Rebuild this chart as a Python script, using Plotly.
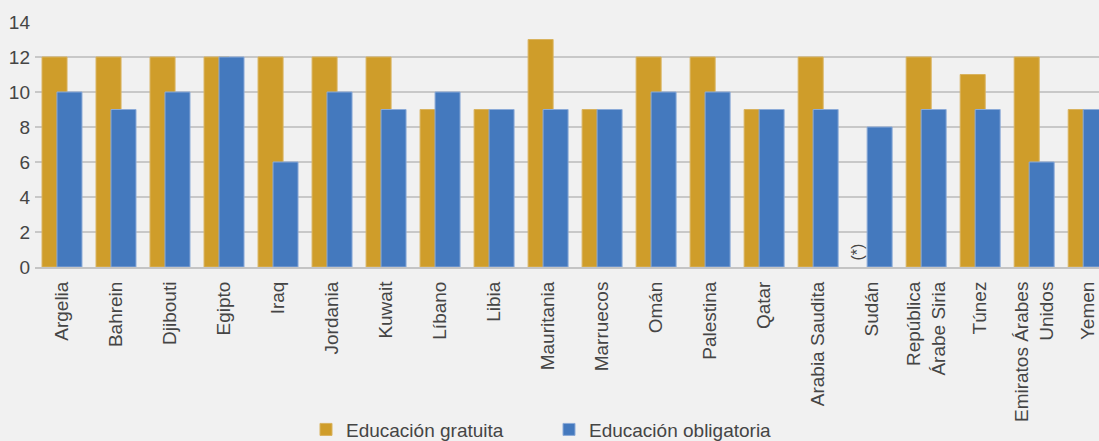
import plotly.graph_objects as go

paises = ["Argelia", "Bahrein", "Djibouti", "Egipto", "Iraq", "Jordania", "Kuwait",
          "Líbano", "Libia", "Mauritania", "Marruecos", "Omán", "Palestina", "Qatar",
          "Arabia Saudita", "Sudán", "República<br>Árabe Siria", "Túnez",
          "Emiratos Árabes<br>Unidos", "Yemen"]
gratuita = [12, 12, 12, 12, 12, 12, 12, 9, 9, 13, 9, 12, 12, 9, 12, None, 12, 11, 12, 9]
obligatoria = [10, 9, 10, 12, 6, 10, 9, 10, 9, 9, 9, 10, 10, 9, 9, 8, 9, 9, 6, 9]

FONT = "Liberation Sans, Arial, sans-serif"
GOLD = "#CF9D2A"
BLUE = "#4479BE"
BG = "#F1F1F1"
TXT = "#454545"

fig = go.Figure()
fig.add_trace(go.Bar(
    x=paises, y=gratuita, name="Educación gratuita",
    marker=dict(color=GOLD, line=dict(color="#D9B35E", width=1)),
    offset=-0.37, width=0.463,
))
fig.add_trace(go.Bar(
    x=paises, y=obligatoria, name="Educación obligatoria",
    marker=dict(color=BLUE, line=dict(color="#8CABD8", width=1)),
    offset=-0.093, width=0.463,
))

# nota de Sudán
fig.add_annotation(x=14.72, y=0, text="(*)", textangle=-90, showarrow=False,
                   yanchor="bottom", yshift=4,
                   font=dict(family=FONT, size=16, color=TXT))

fig.update_layout(
    width=1099, height=441,
    barmode="overlay",
    paper_bgcolor=BG, plot_bgcolor=BG,
    margin=dict(l=35, r=0, t=22, b=174),
    font=dict(family=FONT, size=19, color=TXT),
    showlegend=True,
    legend=dict(orientation="h", x=0.2547, xanchor="left",
                yref="container", y=0.069, yanchor="top",
                entrywidth=198, entrywidthmode="pixels",
                font=dict(size=19, color=TXT), bgcolor="rgba(0,0,0,0)"),
)
fig.update_xaxes(range=[-0.5, 19.2], tickangle=-90, showgrid=False, automargin=False,
                 showline=True, linecolor="#C4C4C4", linewidth=2, ticks="",
                 ticklabelstandoff=5, tickfont=dict(size=19, color=TXT))
fig.update_yaxes(range=[0, 14], dtick=2, showgrid=True, gridcolor="#C8C8C8",
                 gridwidth=1.5, zeroline=False, showline=False, ticks="", automargin=False,
                 ticklabelstandoff=4, tickfont=dict(size=19, color=TXT))

fig.write_html("out.html", config={"displayModeBar": False},
               post_script="document.body.style.margin='0';")
